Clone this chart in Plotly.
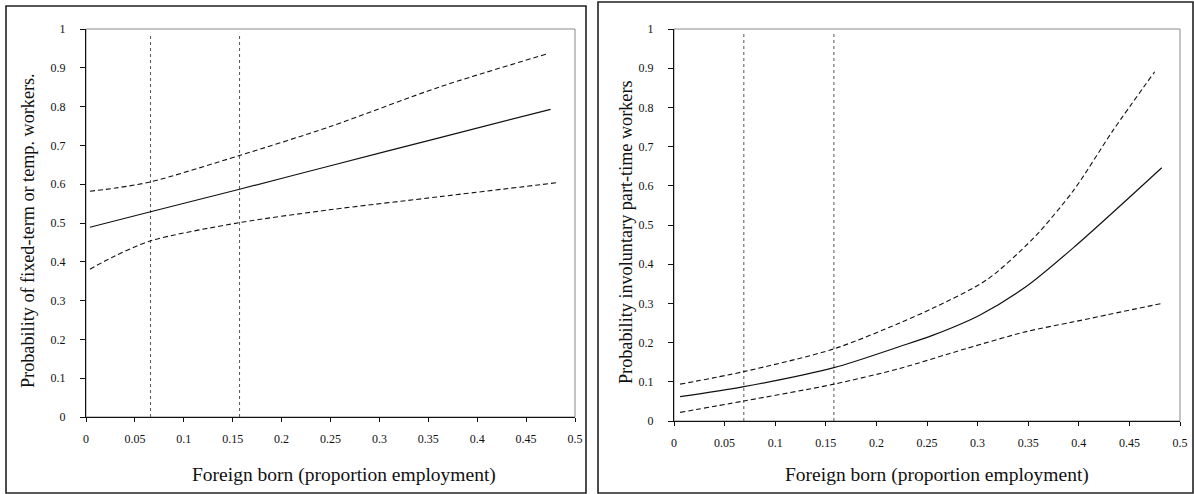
import plotly.graph_objects as go

W, H = 1194, 494

# ---------------- data ----------------
TICK_X = [0, 0.05, 0.1, 0.15, 0.2, 0.25, 0.3, 0.35, 0.4, 0.45, 0.5]
TICK_X_TEXT = ["0", "0.05", "0.1", "0.15", "0.2", "0.25", "0.3", "0.35", "0.4", "0.45", "0.5"]
TICK_Y = [0, 0.1, 0.2, 0.3, 0.4, 0.5, 0.6, 0.7, 0.8, 0.9, 1]
TICK_Y_TEXT = ["0", "0.1", "0.2", "0.3", "0.4", "0.5", "0.6", "0.7", "0.8", "0.9", "1"]

X_TITLE = "Foreign born (proportion employment)"
LEFT_Y_TITLE = "Probability of fixed-term or temp. workers."
RIGHT_Y_TITLE = "Probability involuntary part-time workers"

# Left panel: fixed-term / temporary workers
L_MID_X = [0.004, 0.066, 0.157, 0.249, 0.362, 0.475]
L_MID_Y = [0.489, 0.529, 0.587, 0.647, 0.720, 0.793]
L_UP_X = [0.004, 0.030, 0.066, 0.157, 0.249, 0.362, 0.473]
L_UP_Y = [0.582, 0.590, 0.606, 0.674, 0.748, 0.851, 0.937]
L_LO_X = [0.004, 0.028, 0.066, 0.157, 0.249, 0.362, 0.482]
L_LO_Y = [0.381, 0.413, 0.454, 0.501, 0.534, 0.568, 0.604]
L_VLINES = [0.066, 0.157]

# Right panel: involuntary part-time workers
R_MID_X = [0.006, 0.069, 0.158, 0.223, 0.256, 0.302, 0.348, 0.396, 0.482]
R_MID_Y = [0.062, 0.0875, 0.136, 0.190, 0.219, 0.270, 0.343, 0.445, 0.646]
R_UP_X = [0.006, 0.069, 0.158, 0.223, 0.256, 0.309, 0.355, 0.395, 0.434, 0.475]
R_UP_Y = [0.094, 0.126, 0.184, 0.250, 0.288, 0.360, 0.466, 0.589, 0.742, 0.891]
R_LO_X = [0.006, 0.069, 0.158, 0.223, 0.289, 0.348, 0.395, 0.482]
R_LO_Y = [0.022, 0.051, 0.094, 0.134, 0.185, 0.228, 0.253, 0.300]
R_VLINES = [0.069, 0.158]
VLINE_TOP = 0.99

# ---------------- layout helpers ----------------
FONT = "Liberation Serif"
INK = "#111111"


def px_x(p):
    return p / W


def px_y(p):
    return 1 - p / H


fig = go.Figure()

panels = [
    dict(xa="x", ya="y", xd=[px_x(86), px_x(575)], yd=[px_y(417), px_y(29)],
         mid=(L_MID_X, L_MID_Y), up=(L_UP_X, L_UP_Y), lo=(L_LO_X, L_LO_Y), vl=L_VLINES),
    dict(xa="x2", ya="y2", xd=[px_x(674), px_x(1180)], yd=[px_y(421), px_y(29)],
         mid=(R_MID_X, R_MID_Y), up=(R_UP_X, R_UP_Y), lo=(R_LO_X, R_LO_Y), vl=R_VLINES),
]

shapes = []
for i, p in enumerate(panels):
    # vertical dotted reference lines
    for v in p["vl"]:
        fig.add_trace(go.Scatter(x=[v, v], y=[0, VLINE_TOP], mode="lines",
                                 line=dict(color="#555555", width=1, dash="dot"),
                                 xaxis=p["xa"], yaxis=p["ya"], showlegend=False,
                                 hoverinfo="skip"))
    for key, dash, width in (("up", "5px,3px", 1.1), ("lo", "5px,3px", 1.1), ("mid", "solid", 1.2)):
        xs, ys = p[key]
        fig.add_trace(go.Scatter(x=xs, y=ys, mode="lines",
                                 line=dict(color=INK, width=width, dash=dash, shape="spline",
                                           smoothing=0.8),
                                 xaxis=p["xa"], yaxis=p["ya"], showlegend=False))
    ax_suffix = "" if i == 0 else "2"
    # gray plot-area border (top/right visible)
    shapes.append(dict(type="rect", xref=f"x{ax_suffix} domain", yref=f"y{ax_suffix} domain",
                       x0=0, x1=1, y0=0, y1=1, line=dict(color="#8a8a8a", width=1),
                       layer="below"))

axis_common_x = dict(range=[0, 0.5], tickvals=TICK_X, ticktext=TICK_X_TEXT, automargin=False,
                     showgrid=False, zeroline=False, showline=True, linecolor=INK, linewidth=1,
                     ticks="outside", ticklen=4, tickcolor=INK, tickwidth=1,
                     tickfont=dict(family=FONT, size=12, color=INK), ticklabelstandoff=7)
axis_common_y = dict(range=[0, 1], tickvals=TICK_Y, ticktext=TICK_Y_TEXT, automargin=False,
                     showgrid=False, zeroline=False, showline=True, linecolor=INK, linewidth=1,
                     ticks="outside", ticklen=5, tickcolor=INK, tickwidth=1,
                     tickfont=dict(family=FONT, size=12, color=INK), ticklabelstandoff=12)

fig.update_layout(
    width=W, height=H,
    margin=dict(l=0, r=0, t=0, b=0, autoexpand=False),
    paper_bgcolor="white", plot_bgcolor="white",
    xaxis=dict(domain=panels[0]["xd"], anchor="y", **axis_common_x),
    yaxis=dict(domain=panels[0]["yd"], anchor="x", **axis_common_y),
    xaxis2=dict(domain=panels[1]["xd"], anchor="y2", **axis_common_x),
    yaxis2=dict(domain=panels[1]["yd"], anchor="x2", **axis_common_y),
)

# outer frames around each panel
shapes.append(dict(type="rect", xref="paper", yref="paper",
                   x0=px_x(6), x1=px_x(586), y0=px_y(493), y1=px_y(6),
                   line=dict(color="#222222", width=1.6), layer="above"))
shapes.append(dict(type="rect", xref="paper", yref="paper",
                   x0=px_x(598), x1=px_x(1193), y0=px_y(493), y1=px_y(2),
                   line=dict(color="#222222", width=1.6), layer="above"))
fig.update_layout(shapes=shapes)

xt_font = dict(family=FONT, size=19.5, color=INK)
yt_font = dict(family=FONT, size=18.2, color=INK)
annotations = [
    dict(text=X_TITLE, xref="paper", yref="paper", x=px_x(344), y=px_y(475),
         xanchor="center", yanchor="middle", showarrow=False, font=xt_font),
    dict(text=X_TITLE, xref="paper", yref="paper", x=px_x(937), y=px_y(475),
         xanchor="center", yanchor="middle", showarrow=False, font=xt_font),
    dict(text=LEFT_Y_TITLE, xref="paper", yref="paper", x=px_x(28), y=px_y(231),
         xanchor="center", yanchor="middle", showarrow=False, textangle=-90, font=yt_font),
    dict(text=RIGHT_Y_TITLE, xref="paper", yref="paper", x=px_x(626), y=px_y(232),
         xanchor="center", yanchor="middle", showarrow=False, textangle=-90, font=yt_font),
]
fig.update_layout(annotations=annotations)

fig.write_html("out.html",
               config={"displayModeBar": False, "staticPlot": True},
               post_script="document.body.style.margin='0px';document.body.style.overflow='hidden';")
